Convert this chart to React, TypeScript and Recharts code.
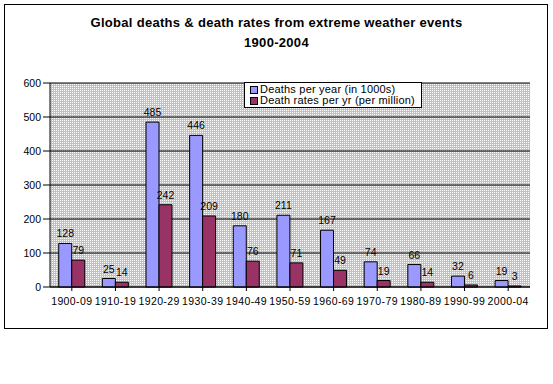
import { BarChart, Bar, XAxis, YAxis, CartesianGrid, LabelList } from "recharts";

const decades = ["1900-09", "1910-19", "1920-29", "1930-39", "1940-49", "1950-59", "1960-69", "1970-79", "1980-89", "1990-99", "2000-04"];
const deathsPerYear = [128, 25, 485, 446, 180, 211, 167, 74, 66, 32, 19];
const deathRates = [79, 14, 242, 209, 76, 71, 49, 19, 14, 6, 3];
const yTicks = [0, 100, 200, 300, 400, 500, 600];

const series = [
  { key: "deaths", name: "Deaths per year (in 1000s)", color: "#9999ff" },
  { key: "rate", name: "Death rates per yr (per million)", color: "#993366" },
];

const data = decades.map((d, i) => ({ decade: d, deaths: deathsPerYear[i], rate: deathRates[i] }));

const font = "'Liberation Sans', Arial, sans-serif";

export default function App() {
  return (
    <div style={{ position: "absolute", left: 0, top: 0, width: 553, height: 384, background: "#fff", fontFamily: font }}>
      <svg width={0} height={0} style={{ position: "absolute" }}>
        <defs>
          <pattern id="dots" width={2} height={2} patternUnits="userSpaceOnUse">
            <rect width={2} height={2} fill="#c0c0c0" />
            <rect width={1} height={1} fill="#ffffff" />
          </pattern>
        </defs>
      </svg>
      <div style={{ position: "absolute", left: 4, top: 4, width: 542, height: 323, border: "1px solid #000" }} />
      <div style={{ position: "absolute", left: 0, width: 553, top: 13, textAlign: "center", fontWeight: "bold", fontSize: 13, letterSpacing: 0.3, lineHeight: "20px" }}>
        Global deaths &amp; death rates from extreme weather events
        <br />
        1900-2004
      </div>
      <div style={{ position: "absolute", left: 0, top: 0 }}>
        <BarChart width={553} height={384} data={data} margin={{ top: 83, right: 23, bottom: 77, left: 10 }} barCategoryGap="20%" barGap={0}>
          <CartesianGrid vertical={false} stroke="#000" fill="url(#dots)" fillOpacity={1} />
          <XAxis dataKey="decade" stroke="#000" tickLine={{ stroke: "#000" }} tickSize={4} tickMargin={7} height={20} interval={0} tick={{ fill: "#000", fontSize: 10.5, fontFamily: font, letterSpacing: 0.4 }} />
          <YAxis domain={[0, 600]} ticks={yTicks} stroke="#000" tickSize={7} tickMargin={2} width={40} tick={{ fill: "#000", fontSize: 10.5, fontFamily: font }} />
          {series.map((s) => (
            <Bar key={s.key} dataKey={s.key} name={s.name} fill={s.color} stroke="#000" strokeWidth={1} isAnimationActive={false}>
              <LabelList dataKey={s.key} position="top" offset={6} fill="#000" fontSize={10.5} fontFamily={font} />
            </Bar>
          ))}
        </BarChart>
      </div>
      <div style={{ position: "absolute", left: 244, top: 82, width: 171, height: 23, background: "#fff", border: "1px solid #000", padding: "1px 0 0 5px", boxSizing: "content-box", fontSize: 11, letterSpacing: 0.2, lineHeight: "11px" }}>
        {series.map((s) => (
          <div key={s.key} style={{ display: "flex", alignItems: "center", whiteSpace: "nowrap" }}>
            <span style={{ display: "inline-block", width: 6, height: 6, background: s.color, border: "1px solid #000", marginRight: 2 }} />
            {s.name}
          </div>
        ))}
      </div>
    </div>
  );
}
